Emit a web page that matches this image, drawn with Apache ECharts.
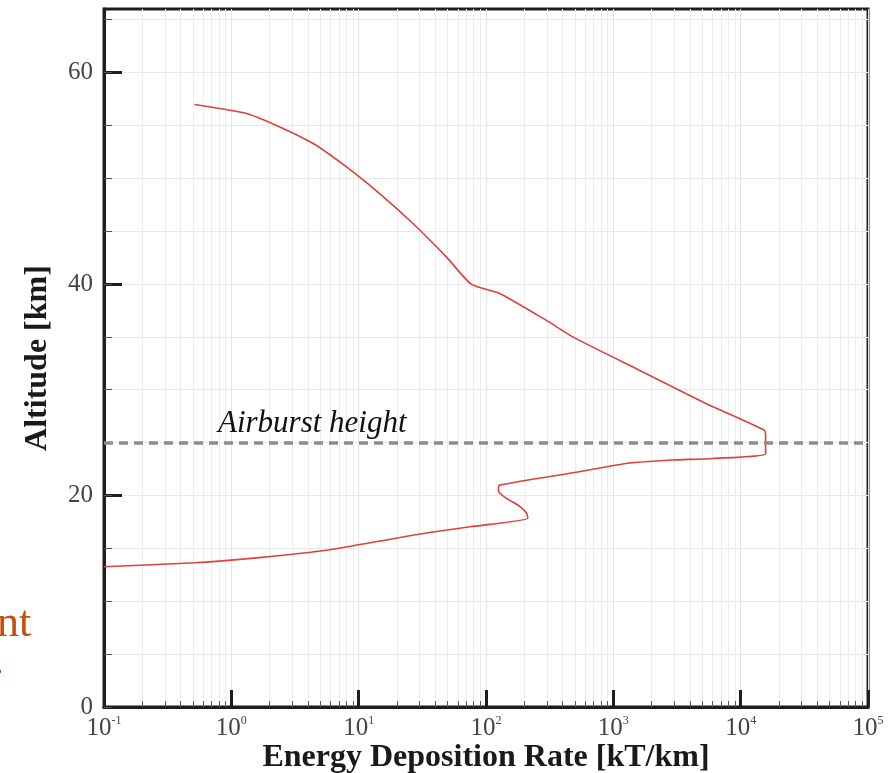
<!DOCTYPE html>
<html>
<head>
<meta charset="utf-8">
<script src="https://cdn.jsdelivr.net/npm/echarts@6/dist/echarts.min.js"></script>
<style>
html,body{margin:0;padding:0;background:#fff;}
#main{width:895px;height:773px;}
</style>
</head>
<body>
<div id="main"></div>
<script>
// ---- data ----
const rate = [0.513, 1.32, 2.40, 4.39, 8.02, 14.6, 26.7, 48.8, 76.6, 128, 296, 480, 1600, 5330, 15300, 15700, 15700,
              6010, 2900, 1256, 541, 128, 125, 140, 183, 208, 213, 75, 35, 19.1, 5.74, 1.73, 0.518, 0.1];
const altitude = [56.97, 56.12, 54.85, 53.28, 51.07, 48.55, 45.72, 42.56, 39.98, 39.10, 36.58, 35.0, 31.85, 28.70, 26.18, 25.6, 23.98,
                  23.5, 23.35, 23.03, 22.24, 20.98, 20.5, 19.85, 19.0, 18.34, 17.84, 17.04, 16.47, 15.94, 14.84, 14.15, 13.64, 13.26];
const xDecades = [0.1, 1, 10, 100, 1000, 10000, 100000];
const xTickExponents = ['-1', '0', '1', '2', '3', '4', '5'];
const xMinorMultipliers = [2, 3, 4, 5, 6, 7, 8, 9];
const yMajorTicks = [0, 20, 40, 60];
const yMinorTicks = [0, 5, 10, 15, 20, 25, 30, 35, 40, 45, 50, 55, 60, 65];
const airburstHeight = 25;
const airburstLabel = 'Airburst height';

const xMinor = [];
xDecades.slice(0, -1).forEach(d => xMinorMultipliers.forEach(m => xMinor.push(+(d * m).toPrecision(3))));

const serif = 'Liberation Serif';
const curve = rate.map((r, i) => [r, altitude[i]]);

const chart = echarts.init(document.getElementById('main'));
chart.setOption({
  backgroundColor: '#fff',
  animation: false,
  grid: { left: 104, right: 27, top: 9, bottom: 66, show: true, borderColor: '#1e1e1e', borderWidth: 3,
          backgroundColor: 'transparent', outerBoundsMode: 'none', containLabel: false },
  xAxis: [
    {
      type: 'log', logBase: 10, min: 0.1, max: 100000, position: 'bottom',
      name: 'Energy Deposition Rate [kT/km]', nameLocation: 'middle', nameGap: 35, nameMoveOverlap: false,
      nameTextStyle: { fontFamily: serif, fontWeight: 'bold', fontSize: 32, color: '#1a1a1a' },
      axisLine: { show: true, lineStyle: { color: '#1e1e1e', width: 3 } },
      axisTick: { show: true, inside: true, length: 17, lineStyle: { color: '#1e1e1e', width: 3 }, customValues: xDecades },
      axisLabel: {
        customValues: xDecades, margin: 8,
        formatter: v => { const i = xDecades.findIndex(d => Math.abs(d - v) / d < 1e-6); return '{b|10}{s|' + (i >= 0 ? xTickExponents[i] : '') + '}'; },
        rich: {
          b: { fontFamily: serif, fontSize: 25, color: '#444', lineHeight: 26 },
          s: { fontFamily: serif, fontSize: 12, color: '#444', verticalAlign: 'top', lineHeight: 26, padding: [0, 0, 10, 0] }
        }
      },
      splitLine: { show: true, lineStyle: { color: '#e4e4e4', width: 1 } }
    },
    {
      type: 'log', logBase: 10, min: 0.1, max: 100000, position: 'bottom',
      axisLine: { show: false },
      axisTick: { show: true, inside: true, length: 6, lineStyle: { color: '#555', width: 1 }, customValues: xMinor },
      axisLabel: { show: false },
      splitLine: { show: true, lineStyle: { color: '#ececec', width: 1 } }
    }
  ],
  yAxis: [
    {
      type: 'value', min: 0, max: 66, interval: 20, position: 'left',
      name: 'Altitude [km]', nameLocation: 'middle', nameGap: 50, nameRotate: 90, nameMoveOverlap: false,
      nameTextStyle: { fontFamily: serif, fontWeight: 'bold', fontSize: 32, color: '#1a1a1a' },
      axisLine: { show: true, lineStyle: { color: '#1e1e1e', width: 3 } },
      axisTick: { show: true, inside: true, length: 18, lineStyle: { color: '#1e1e1e', width: 3 }, customValues: yMajorTicks },
      axisLabel: { customValues: yMajorTicks, margin: 11, fontFamily: serif, fontSize: 25, color: '#444' },
      splitLine: { show: false }
    },
    {
      type: 'value', min: 0, max: 66, interval: 5, position: 'left',
      axisLine: { show: false },
      axisTick: { show: true, inside: true, length: 8, lineStyle: { color: '#555', width: 1 }, customValues: yMinorTicks },
      axisLabel: { show: false },
      splitLine: { show: true, lineStyle: { color: '#e8e8e8', width: 1 } }
    }
  ],
  series: [
    {
      type: 'line', xAxisIndex: 0, yAxisIndex: 0, data: curve, showSymbol: false, smooth: 0.2,
      lineStyle: { color: '#e0403c', width: 1.6 },
      markLine: {
        silent: true, symbol: 'none', animation: false,
        lineStyle: { color: '#8c8c8c', width: 3.5, type: [9, 6] },
        label: {
          show: true, position: 'insideStartTop', distance: [114, 3], formatter: airburstLabel,
          fontFamily: serif, fontStyle: 'italic', fontSize: 31, color: '#111'
        },
        data: [{ yAxis: airburstHeight }]
      }
    }
  ],
  graphic: [
    { type: 'text', left: -3, top: 602, style: { text: 'nt', fontFamily: serif, fontSize: 44, fill: '#c4500e' } },
    { type: 'text', left: -7, top: 640, style: { text: '.', fontFamily: serif, fontSize: 44, fill: '#c4500e' } }
  ]
});
</script>
</body>
</html>
